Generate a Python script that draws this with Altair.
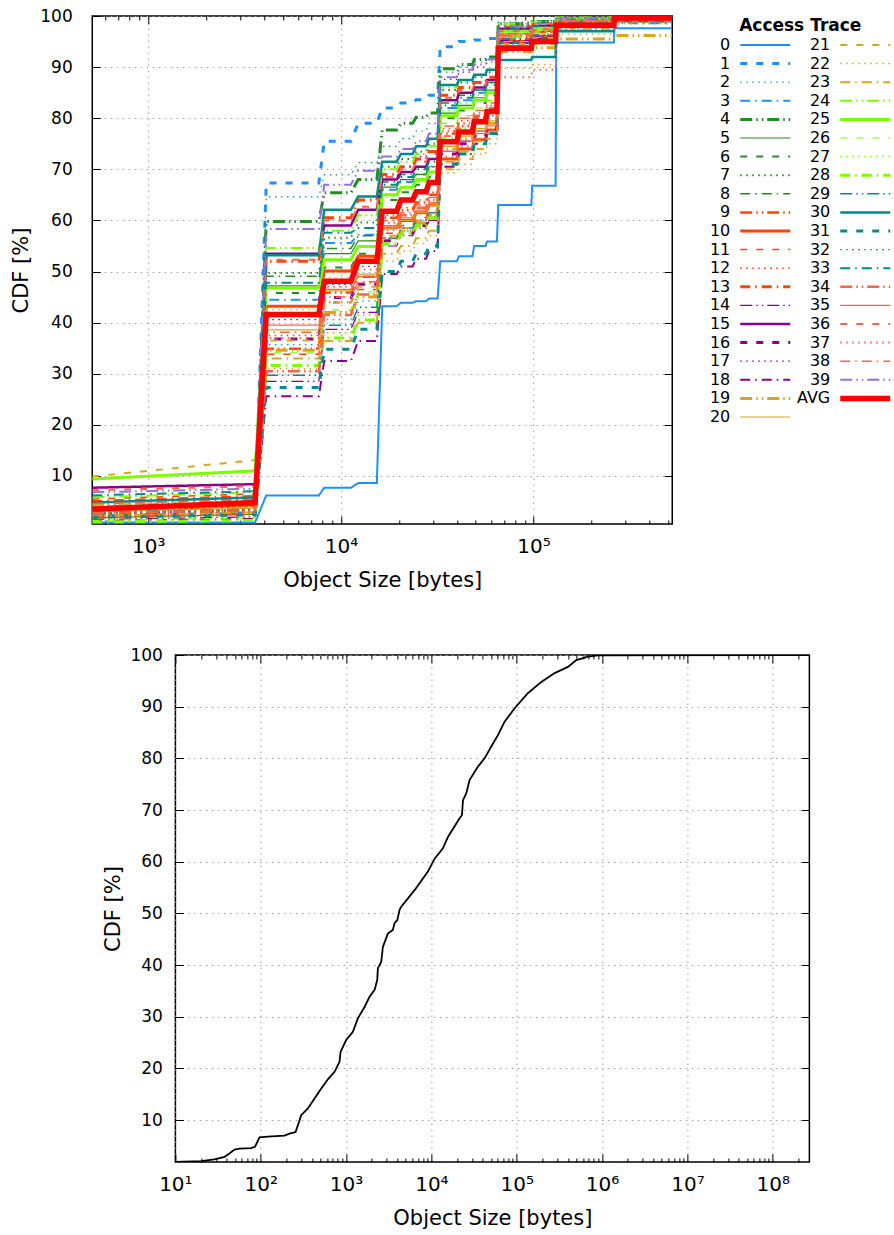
import altair as alt
import pandas as pd

# ---------------------------------------------------------------------------
# Per-trace object-size CDFs (percent).
# Each list: value at 512 B, value at 3.5 KiB, then one level per plateau
# (plateau boundaries in PLATEAU_START / PLATEAU_END).
# ---------------------------------------------------------------------------
HEAD_SIZES = [512, 3584]
PLATEAU_START = [4096, 8192, 12288, 16384, 20480, 24576, 28672, 32768,
                 40960, 49152, 57344, 65536, 98304, 131072, 262144]
PLATEAU_END = [7680, 11264, 15360, 19456, 23552, 27648, 31744, 39936,
               48128, 56320, 64512, 97280, 130048, 261120, 524288]

TRACE_00 = [0.9, 0.9, 6.2, 7.7, 8.6, 43.2, 43.9, 44.2, 44.7, 52.0, 53.0, 55.0, 55.9, 63.0, 66.8, 94.8, 97.6]
TRACE_01 = [2.2, 2.8, 67.3, 75.5, 79.0, 82.0, 83.0, 83.6, 84.5, 94.0, 95.0, 95.3, 95.6, 97.2, 97.5, 98.2, 99.0]
TRACE_02 = [3.0, 3.6, 35.7, 40.6, 44.2, 58.0, 60.0, 61.5, 63.0, 75.0, 77.5, 79.5, 81.0, 94.5, 95.5, 98.5, 99.5]
TRACE_03 = [4.5, 5.5, 44.5, 55.6, 57.2, 66.0, 67.5, 69.0, 70.5, 82.0, 83.5, 85.0, 86.5, 96.0, 96.8, 97.8, 98.6]
TRACE_04 = [2.5, 3.2, 59.8, 65.4, 68.0, 77.7, 79.0, 80.2, 81.0, 89.7, 90.5, 91.5, 92.0, 98.5, 98.9, 99.5, 99.9]
TRACE_05 = [1.8, 2.5, 47.2, 53.5, 56.0, 66.5, 68.0, 69.0, 70.5, 81.0, 82.5, 84.0, 85.5, 96.5, 97.0, 99.0, 99.8]
TRACE_06 = [3.5, 4.5, 45.8, 50.8, 53.5, 64.0, 65.5, 67.0, 68.5, 80.0, 81.5, 83.0, 84.5, 97.0, 97.5, 99.2, 99.8]
TRACE_07 = [2.8, 3.4, 49.7, 56.6, 59.6, 70.5, 72.0, 73.5, 75.0, 85.5, 87.0, 88.0, 89.0, 98.0, 98.5, 99.4, 99.9]
TRACE_08 = [4.0, 4.8, 49.1, 54.5, 57.0, 67.5, 69.0, 70.5, 72.0, 83.0, 84.5, 85.5, 87.0, 97.5, 98.0, 99.3, 99.8]
TRACE_09 = [2.0, 2.6, 34.9, 45.9, 49.0, 60.5, 62.0, 63.5, 65.0, 77.0, 78.5, 80.0, 81.5, 95.5, 96.2, 98.7, 99.6]
TRACE_10 = [3.2, 4.2, 43.2, 50.1, 53.0, 58.5, 60.0, 61.5, 63.0, 72.0, 74.0, 75.8, 77.7, 95.0, 96.0, 98.8, 99.7]
TRACE_11 = [5.5, 6.5, 33.8, 43.9, 46.5, 57.5, 59.0, 60.5, 62.0, 76.5, 78.0, 79.5, 81.0, 96.0, 96.8, 98.6, 99.5]
TRACE_12 = [2.4, 3.0, 37.5, 47.0, 50.4, 61.0, 62.5, 64.0, 65.5, 78.0, 79.5, 81.0, 82.5, 95.8, 96.5, 99.0, 99.7]
TRACE_13 = [5.0, 6.0, 52.0, 60.5, 64.0, 69.0, 70.5, 72.0, 73.5, 84.5, 86.0, 87.0, 88.0, 97.8, 98.3, 99.5, 99.9]
TRACE_14 = [1.5, 2.0, 28.5, 38.7, 42.0, 55.0, 57.0, 58.5, 60.0, 73.5, 75.5, 77.5, 79.0, 95.2, 96.0, 98.5, 99.6]
TRACE_15 = [7.7, 8.4, 53.5, 59.0, 62.1, 68.0, 69.5, 70.5, 72.0, 83.5, 85.0, 86.0, 87.5, 97.5, 98.0, 99.3, 99.8]
TRACE_16 = [3.8, 4.6, 36.8, 44.9, 47.5, 56.0, 57.5, 59.0, 60.5, 73.0, 75.0, 76.5, 78.0, 94.8, 95.8, 98.4, 99.5]
TRACE_17 = [2.6, 3.3, 40.6, 47.5, 51.0, 68.5, 70.5, 72.5, 74.5, 87.6, 89.0, 90.0, 91.0, 98.2, 98.7, 99.6, 99.9]
TRACE_18 = [1.2, 1.6, 25.6, 32.5, 36.4, 49.5, 51.0, 52.5, 54.0, 70.5, 73.0, 75.0, 77.0, 94.0, 95.0, 98.0, 99.4]
TRACE_19 = [4.2, 5.0, 34.6, 42.0, 45.0, 56.5, 58.0, 59.5, 61.0, 74.0, 76.0, 77.5, 79.0, 93.0, 93.8, 95.5, 96.2]
TRACE_20 = [3.0, 3.7, 38.6, 46.2, 49.5, 58.5, 60.0, 61.5, 63.0, 74.5, 76.5, 78.0, 79.5, 95.0, 95.8, 98.2, 99.3]
TRACE_21 = [9.9, 13.1, 36.5, 44.0, 47.0, 57.0, 58.5, 60.0, 61.0, 70.0, 72.0, 74.0, 76.0, 94.5, 95.5, 97.5, 98.8]
TRACE_22 = [1.6, 2.2, 31.0, 38.0, 41.5, 52.0, 54.0, 55.5, 57.0, 69.3, 71.0, 73.0, 75.0, 89.8, 90.5, 96.5, 98.5]
TRACE_23 = [2.2, 2.9, 33.0, 36.4, 40.0, 53.5, 55.0, 56.5, 58.0, 71.5, 73.5, 75.5, 77.0, 93.5, 94.5, 97.2, 98.9]
TRACE_24 = [5.8, 6.8, 54.6, 58.0, 61.0, 70.0, 71.5, 73.0, 74.5, 86.0, 87.5, 88.5, 89.5, 98.5, 98.9, 99.7, 100.0]
TRACE_25 = [9.4, 11.0, 46.8, 52.3, 54.9, 65.0, 66.5, 68.0, 69.5, 80.5, 82.0, 83.5, 85.0, 97.0, 97.6, 99.4, 99.9]
TRACE_26 = [1.3, 1.8, 34.1, 42.5, 46.0, 62.0, 64.0, 65.5, 67.0, 79.0, 80.5, 82.0, 83.5, 96.5, 97.2, 99.2, 99.8]
TRACE_27 = [3.3, 4.0, 42.5, 48.8, 51.5, 64.5, 66.0, 67.5, 69.0, 81.5, 83.0, 84.5, 86.0, 97.2, 97.8, 99.5, 99.9]
TRACE_28 = [1.0, 1.3, 31.6, 37.0, 40.5, 55.5, 57.5, 59.0, 60.5, 76.0, 78.0, 79.5, 81.0, 96.0, 96.8, 99.0, 99.8]
TRACE_29 = [2.9, 3.5, 29.7, 39.5, 43.0, 56.5, 58.5, 60.0, 61.5, 75.5, 77.5, 79.0, 80.5, 95.5, 96.3, 98.8, 99.6]
TRACE_30 = [4.8, 5.8, 53.2, 62.1, 64.7, 71.5, 73.0, 74.5, 76.0, 86.5, 87.5, 88.5, 89.5, 91.4, 92.0, 97.0, 99.0]
TRACE_31 = [1.9, 2.4, 27.3, 34.8, 38.7, 50.0, 52.0, 53.5, 55.0, 71.0, 73.0, 75.0, 77.0, 94.8, 95.6, 98.3, 99.5]
TRACE_32 = [3.6, 4.3, 64.6, 68.9, 71.3, 74.5, 76.0, 77.5, 79.0, 89.0, 90.0, 91.0, 91.8, 98.8, 99.1, 99.7, 100.0]
TRACE_33 = [6.2, 7.0, 47.8, 57.6, 58.5, 67.0, 68.5, 70.0, 71.5, 82.5, 84.0, 85.5, 87.0, 97.5, 98.0, 99.3, 99.8]
TRACE_34 = [2.7, 3.3, 30.5, 41.5, 45.5, 59.5, 61.0, 62.5, 64.0, 77.5, 79.0, 80.5, 82.0, 96.2, 96.9, 99.0, 99.7]
TRACE_35 = [3.9, 4.7, 39.5, 46.5, 49.0, 59.0, 60.5, 62.0, 63.5, 73.5, 75.5, 77.0, 78.5, 94.2, 95.2, 98.0, 99.3]
TRACE_36 = [7.2, 8.0, 52.3, 60.0, 62.7, 68.5, 70.0, 71.5, 73.0, 84.0, 85.5, 86.5, 87.5, 97.0, 97.4, 98.0, 99.0]
TRACE_37 = [2.1, 2.7, 37.0, 44.0, 47.8, 56.5, 58.0, 60.0, 61.5, 72.5, 74.5, 76.0, 77.5, 88.0, 89.5, 97.5, 99.2]
TRACE_38 = [4.6, 5.4, 38.1, 45.0, 48.0, 60.0, 61.5, 63.0, 64.5, 78.5, 80.0, 81.5, 83.0, 96.5, 97.2, 99.1, 99.8]
TRACE_39 = [6.8, 7.5, 58.3, 67.0, 69.7, 72.5, 74.0, 75.5, 77.0, 88.0, 89.5, 90.5, 91.5, 98.0, 98.5, 99.5, 99.9]
AVG = [3.5, 4.8, 41.6, 48.1, 52.0, 61.8, 64.0, 65.6, 67.4, 75.4, 77.3, 79.3, 81.3, 93.7, 95.0, 98.2, 99.6]

TRACE_LEVELS = [
    TRACE_00, TRACE_01, TRACE_02, TRACE_03, TRACE_04, TRACE_05, TRACE_06, TRACE_07,
    TRACE_08, TRACE_09, TRACE_10, TRACE_11, TRACE_12, TRACE_13, TRACE_14, TRACE_15,
    TRACE_16, TRACE_17, TRACE_18, TRACE_19, TRACE_20, TRACE_21, TRACE_22, TRACE_23,
    TRACE_24, TRACE_25, TRACE_26, TRACE_27, TRACE_28, TRACE_29, TRACE_30, TRACE_31,
    TRACE_32, TRACE_33, TRACE_34, TRACE_35, TRACE_36, TRACE_37, TRACE_38, TRACE_39,
]
TRACE_NAMES = [str(i) for i in range(len(TRACE_LEVELS))]

# Aggregate object-size CDF over all objects
ALL_SIZES = [10, 20, 28.7, 37.7, 43, 49.3, 56.4, 77.3, 86, 96.8, 121, 190, 217, 256,
             277, 298, 357, 427, 512, 612, 733, 839, 862, 1002, 1202, 1375, 1647,
             1887, 2160, 2318, 2360, 2582, 2700, 3090, 3530, 3700, 3980, 4240, 4430,
             6350, 9100, 10900, 13650, 15630, 21400, 22800, 23440, 25600, 28000,
             35100, 42000, 50300, 60200, 72100, 94500, 135000, 194000, 278000,
             398000, 499000, 683000, 895000, 268435456]
ALL_CDF = [1.9, 2.07, 2.4, 2.9, 3.55, 4.32, 4.5, 4.6, 4.9, 6.65, 6.8, 7.0, 7.4, 7.7,
           9.35, 10.97, 12.26, 14.2, 16.1, 17.9, 19.35, 21.3, 23.2, 25.5, 27.1, 29.7,
           31.9, 33.9, 35.2, 37.1, 39.4, 40.6, 43.5, 46.1, 46.8, 48.1, 48.7, 50.7,
           51.3, 54.5, 58.1, 60.6, 62.6, 64.8, 68.4, 69.0, 71.9, 73.2, 75.8, 78.4,
           80.0, 82.3, 84.5, 87.1, 89.7, 92.6, 94.8, 96.5, 97.7, 99.0, 99.7, 99.95,
           100.0]

# ---------------------------------------------------------------------------
# Line styles (gnuplot-like)
# ---------------------------------------------------------------------------
FONT = "DejaVu Sans"
GRID_COLOR = "#a0a0a0"
TRACE_COLORS = (["#1E90FF"] * 4 + ["#228B22"] * 5 + ["#FF4500"] * 5 + ["#8B008B"] * 5
                + ["#DAA520"] * 5 + ["#7CFC00"] * 5 + ["#008B8B"] * 5 + ["#FF6347"] * 5
                + ["#9370DB"])
DASH_PATTERNS = [[1, 0], [7, 9], [1.5, 4.5], [10, 5, 1.5, 5], [12, 4, 1.5, 4, 1.5, 4]]
TRACE_DASHES = [DASH_PATTERNS[i % 5] for i in range(len(TRACE_NAMES))]
TRACE_WIDTHS = [2, 3, 1.2, 2, 3, 1.2, 2, 2, 1.5, 2.5,
                3, 1.5, 1.5, 3, 1.2, 2.5, 3, 1.2, 2, 3,
                1.2, 2, 1.5, 2, 2, 3, 1.2, 1.5, 3, 1.5,
                2.5, 3, 1.2, 2, 2.5, 1.2, 2, 2, 1.5, 2]

SERIES = TRACE_NAMES + ["AVG"]
color_scale = alt.Scale(domain=SERIES, range=TRACE_COLORS + ["#FF0000"])
dash_scale = alt.Scale(domain=SERIES, range=TRACE_DASHES + [[1, 0]])
width_scale = alt.Scale(domain=SERIES, range=TRACE_WIDTHS + [5.5], type="ordinal")

SUP_EXPR = ("'10' + ['\u2070','\u00b9','\u00b2','\u00b3','\u2074','\u2075',"
            "'\u2076','\u2077','\u2078','\u2079'][round(log(datum.value)/LN10)]")


# ---------------------------------------------------------------------------
# Long-form tables
# ---------------------------------------------------------------------------
def step_points(levels):
    pts = list(zip(HEAD_SIZES, levels[:2]))
    for start, end, level in zip(PLATEAU_START, PLATEAU_END, levels[2:]):
        pts.append((start, level))
        pts.append((end, level))
    return pts


rows = []
for name, levels in zip(SERIES, TRACE_LEVELS + [AVG]):
    for k, (size, cdf) in enumerate(step_points(levels)):
        rows.append({"trace": name, "size": size, "cdf": cdf, "seq": k})
cdf_df = pd.DataFrame(rows)
traces_df = cdf_df[cdf_df["trace"] != "AVG"]
avg_df = cdf_df[cdf_df["trace"] == "AVG"]

all_df = pd.DataFrame({"size": ALL_SIZES, "cdf": ALL_CDF, "seq": range(len(ALL_SIZES))})

# legend entries: two columns (0-20 | 21-39, AVG)
LEGEND_ROWS = 21
legend_df = pd.DataFrame({
    "trace": SERIES,
    "col": [k // LEGEND_ROWS for k in range(len(SERIES))],
    "row": [k % LEGEND_ROWS for k in range(len(SERIES))],
})
legend_df["col_end"] = legend_df["col"] + 0.5
legend_title_df = pd.DataFrame({"label": ["Access Trace"], "col": [0.6], "row": [-1]})


# ---------------------------------------------------------------------------
# Axis helpers: labelled axes outside, inward tick marks on all four sides
# ---------------------------------------------------------------------------
def minor_log_ticks(lo_exp, hi_exp, lo, hi):
    vals = []
    for e in range(lo_exp, hi_exp + 1):
        for m in range(2, 10):
            v = m * 10 ** e
            if lo < v < hi:
                vals.append(v)
    return vals


def x_label_axis(values, label_size, title_size, label_pad, title_pad):
    return alt.Axis(values=values, labelExpr=SUP_EXPR, title="Object Size [bytes]",
                    grid=True, gridColor=GRID_COLOR, gridDash=[1.5, 4.5], gridWidth=1,
                    ticks=False, tickSize=0, domain=False, labelFlush=False,
                    labelOverlap=False, labelPadding=label_pad, titlePadding=title_pad,
                    labelFontSize=label_size, titleFontSize=title_size)


def y_label_axis(label_size, title_size, label_pad, title_pad):
    return alt.Axis(values=Y_TICKS, title="CDF [%]", grid=True, gridColor=GRID_COLOR,
                    gridDash=[1.5, 4.5], gridWidth=1, ticks=False, tickSize=0,
                    domain=False, labelFlush=False, labelOverlap=False,
                    labelPadding=label_pad, titlePadding=title_pad,
                    labelFontSize=label_size, titleFontSize=title_size)


def tick_axis(values, orient, offset, size):
    return alt.Axis(values=values, orient=orient, offset=offset, tickSize=size,
                    tickColor="black", tickWidth=1, ticks=True, labels=False,
                    domain=False, grid=False, title=None)


Y_TICKS = [10, 20, 30, 40, 50, 60, 70, 80, 90, 100]
MAJOR_TICK = 8
MINOR_TICK = 4


def framed_layers(data_main, main_mark, x_field, y_field, x_domain, y_domain,
                  x_major, x_minor, width, height, x_axis, y_axis, extra_enc):
    xs = alt.Scale(type="log", domain=x_domain, nice=False)
    ys = alt.Scale(domain=y_domain, nice=False, zero=False)

    def X(axis):
        return alt.X(x_field, scale=xs, axis=axis)

    def Y(axis):
        return alt.Y(y_field, scale=ys, axis=axis)

    layers = [main_mark.encode(x=X(x_axis), y=Y(y_axis), **extra_enc)]
    ghost = alt.Chart(data_main).mark_line(opacity=0)
    layers.append(ghost.encode(x=X(tick_axis(x_major, "top", -height, MAJOR_TICK)),
                               y=Y(tick_axis(Y_TICKS, "right", -width, MAJOR_TICK)),
                               order="seq:Q"))
    layers.append(ghost.encode(x=X(tick_axis(x_minor, "top", -height, MINOR_TICK)),
                               y=Y(tick_axis(Y_TICKS, "left", -width, MAJOR_TICK)),
                               order="seq:Q"))
    layers.append(ghost.encode(x=X(tick_axis(x_major, "bottom", -height, MAJOR_TICK)),
                               y=Y(None), order="seq:Q"))
    layers.append(ghost.encode(x=X(tick_axis(x_minor, "bottom", -height, MINOR_TICK)),
                               y=Y(None), order="seq:Q"))
    return layers


# ---------------------------------------------------------------------------
# Top panel: per-trace CDFs with AVG and legend
# ---------------------------------------------------------------------------
W1, H1 = 580, 508
X1_DOMAIN = [512, 524288]
Y1_DOMAIN = [0.6, 100]
X1_MAJOR = [1000, 10000, 100000]
X1_MINOR = minor_log_ticks(2, 5, X1_DOMAIN[0], X1_DOMAIN[1])

style_enc = dict(
    color=alt.Color("trace:N", scale=color_scale, legend=None),
    strokeDash=alt.StrokeDash("trace:N", scale=dash_scale, legend=None),
    strokeWidth=alt.StrokeWidth("trace:N", scale=width_scale, legend=None),
)

traces_mark = alt.Chart(traces_df).mark_line(clip=True)
top_layers = framed_layers(
    avg_df, traces_mark, "size:Q", "cdf:Q", X1_DOMAIN, Y1_DOMAIN, X1_MAJOR, X1_MINOR,
    W1, H1,
    x_label_axis(X1_MAJOR, 20, 21, 12, 13),
    y_label_axis(17, 21, 20, 8),
    dict(order="seq:Q", **style_enc),
)
avg_line = alt.Chart(avg_df).mark_line(clip=True).encode(
    x=alt.X("size:Q", scale=alt.Scale(type="log", domain=X1_DOMAIN, nice=False), axis=None),
    y=alt.Y("cdf:Q", scale=alt.Scale(domain=Y1_DOMAIN, nice=False, zero=False), axis=None),
    order="seq:Q", **style_enc,
)

LEG_X = alt.Scale(domain=[0, 1], range=[648, 748])
LEG_Y = alt.Scale(domain=[0, 20], range=[29, 401])
legend_lines = alt.Chart(legend_df).mark_rule().encode(
    x=alt.X("col:Q", scale=LEG_X, axis=None),
    x2="col_end:Q",
    y=alt.Y("row:Q", scale=LEG_Y, axis=None),
    **style_enc,
)
legend_labels = alt.Chart(legend_df).mark_text(
    align="right", baseline="middle", dx=-10, font=FONT, fontSize=16, color="black"
).encode(
    x=alt.X("col:Q", scale=LEG_X, axis=None),
    y=alt.Y("row:Q", scale=LEG_Y, axis=None),
    text="trace:N",
)
legend_title = alt.Chart(legend_title_df).mark_text(
    align="center", baseline="middle", font=FONT, fontSize=17, fontWeight="bold",
    color="black"
).encode(
    x=alt.X("col:Q", scale=LEG_X, axis=None),
    y=alt.Y("row:Q", scale=LEG_Y, axis=None),
    text="label:N",
)

top = alt.layer(
    top_layers[0], avg_line, *top_layers[1:], legend_lines, legend_labels, legend_title
).resolve_scale(x="independent", y="independent").properties(width=W1, height=H1)

# ---------------------------------------------------------------------------
# Bottom panel: CDF over all objects
# ---------------------------------------------------------------------------
W2, H2 = 634, 507
X2_DOMAIN = [10, 268435456]
Y2_DOMAIN = [1.9, 100]
X2_MAJOR = [10, 100, 1000, 10000, 100000, 1000000, 10000000, 100000000]
X2_MINOR = minor_log_ticks(1, 8, X2_DOMAIN[0], X2_DOMAIN[1])

all_mark = alt.Chart(all_df).mark_line(color="black", strokeWidth=1.8, clip=True)
bottom_layers = framed_layers(
    all_df, all_mark, "size:Q", "cdf:Q", X2_DOMAIN, Y2_DOMAIN, X2_MAJOR, X2_MINOR,
    W2, H2,
    x_label_axis(X2_MAJOR, 20, 21, 12, 13),
    y_label_axis(17, 21, 13, 6),
    dict(order="seq:Q"),
)
bottom = alt.layer(*bottom_layers).resolve_scale(
    x="independent", y="independent"
).properties(width=W2, height=H2)

chart = alt.vconcat(top, bottom, spacing=54, center=True).properties(
    padding={"left": 10, "top": 6, "right": 0, "bottom": 0}
).configure(background="white").configure_view(
    stroke="black", strokeWidth=1.5
).configure_axis(
    labelFont=FONT, titleFont=FONT, labelColor="black", titleColor="black",
    titleFontWeight="normal"
)

chart.save("out.html", embed_options={"renderer": "svg", "actions": False})
